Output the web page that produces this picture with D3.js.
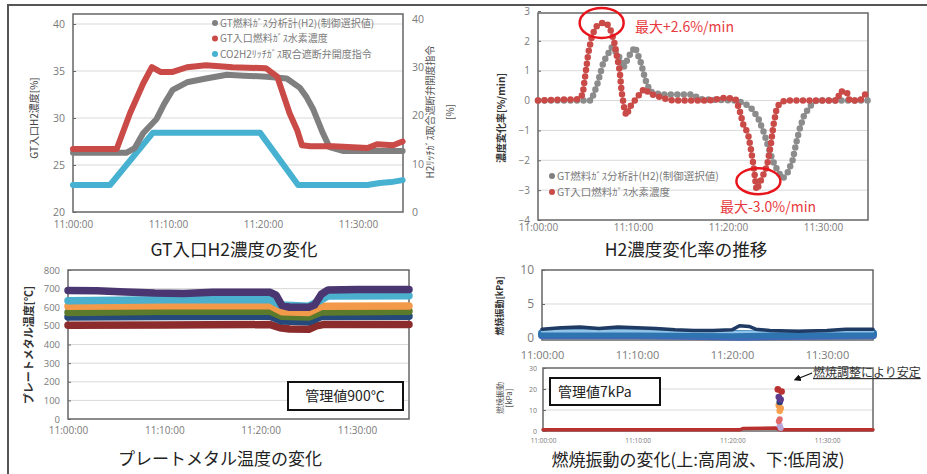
<!DOCTYPE html>
<html>
<head>
<meta charset="utf-8">
<script src="https://cdn.jsdelivr.net/npm/d3@7"></script>
<style>
  body { margin: 0; background: #fff; }
  text { font-family: 'Noto Sans CJK JP', 'Noto Sans', sans-serif; }
</style>
</head>
<body>
<script>
// ---- data (minutes after 11:00, value) ----
// GT入口H2濃度の変化
const gtAnalyzer = [[0,26.3],[5.6,26.3],[6.5,26.8],[7.4,28.4],[8.8,29.9],[9.6,31.5],[10.5,33.0],[12,33.8],[14,34.2],[16.2,34.6],[18,34.5],[20.4,34.4],[22.5,34.2],[23.9,33.2],[24.6,32.2],[25.3,30.9],[26.3,28.4],[27,26.9],[28.4,26.5],[31,26.5],[34.7,26.5]];
const gtInlet = [[0,26.7],[4.6,26.7],[6,30.5],[7.4,33.7],[8.3,35.4],[9.2,34.9],[10.5,34.9],[12,35.4],[14,35.6],[16.8,35.4],[20.3,35.3],[21.5,34.4],[22.1,32.6],[22.8,30.5],[23.6,28.7],[24.1,27.1],[25,27.0],[27.4,27.0],[31,26.8],[32,27.2],[33.7,27.1],[34.7,27.5]];
const valveCmd = [[0,5.6],[3.9,5.6],[8.4,16.4],[19.7,16.4],[23.7,5.6],[31,5.6],[32.3,6.0],[33.5,6.2],[34.7,6.6]];
const legend1 = ["GT燃料ｶﾞｽ分析計(H2)(制御選択値)", "GT入口燃料ｶﾞｽ水素濃度", "CO2H2ﾘｯﾁｶﾞｽ取合遮断弁開度指令"];

// H2濃度変化率の推移
const rateAnalyzer = [[0,0],[5.6,0],[6.2,0.5],[6.9,1.3],[7.8,1.8],[8.5,1.5],[9,1.1],[9.6,1.5],[10.2,1.8],[10.8,1.3],[11.3,0.7],[11.8,0.3],[13,0.2],[16.3,0.2],[17,0.05],[20.9,0],[21.8,-0.1],[22.6,-0.3],[23.2,-0.6],[23.7,-1.0],[24.2,-1.5],[24.7,-2.0],[25.3,-2.4],[25.8,-2.6],[26.3,-2.4],[26.8,-2.0],[27.2,-1.4],[27.5,-1.0],[28,-0.5],[28.6,-0.2],[29.3,0],[34.7,0]];
const rateInlet = [[0,0],[4.3,0.05],[4.7,0.2],[5,0.9],[5.3,1.6],[5.7,2.2],[6.2,2.5],[6.7,2.6],[7.2,2.6],[7.6,2.4],[8,2.0],[8.3,1.5],[8.6,1.0],[8.8,0.3],[9.1,-0.3],[9.3,-0.5],[9.7,-0.2],[10.3,0.05],[10.8,0.25],[11.2,0.4],[11.7,0.25],[12.5,0.15],[13.5,0.05],[14.2,0],[18,0],[19.8,0.1],[20.8,0.05],[21.2,-0.3],[21.6,-0.8],[22.1,-1.1],[22.4,-1.6],[22.7,-2.2],[23,-3.0],[23.3,-2.8],[23.7,-2.5],[24.1,-2.2],[24.5,-1.5],[24.8,-0.8],[25.1,-0.3],[25.4,-0.1],[26,0],[31.5,0],[31.8,0.3],[32.5,0.3],[32.8,0],[33.9,0],[34.3,0.15],[34.7,0.3]];
const legend2 = ["GT燃料ｶﾞｽ分析計(H2)(制御選択値)", "GT入口燃料ｶﾞｽ水素濃度"];
const peakNotes = ["最大+2.6%/min", "最大-3.0%/min"];

// プレートメタル温度の変化
const plateViolet = [[0,690],[3,688],[6,682],[9,676],[12,674],[15,680],[21,680],[21.6,665],[22.2,610],[23,600],[25,600],[25.6,612],[26.3,670],[27,693],[30,695],[35.4,695]];
const plateCyan = [[0,635],[10,640],[21,640],[22,612],[25,606],[26.3,640],[27,660],[35.4,662]];
const plateOrange = [[0,605],[10,608],[21,608],[22.2,576],[25,572],[26.3,605],[35.4,607]];
const plateGreen = [[0,572],[10,578],[21,578],[22.2,552],[25,548],[26.3,575],[35.4,578]];
const plateBlue = [[0,548],[10,550],[21,552],[22.2,526],[25,522],[26.3,550],[35.4,552]];
const plateRed = [[0,503],[10,505],[21,507],[22,490],[23,483],[25,482],[25.8,500],[26.5,507],[35.4,508]];

// 燃焼振動 (高周波)
const hfNavy = [[0,1.3],[2,1.5],[4,1.6],[6,1.4],[8,1.6],[10,1.5],[12,1.4],[14,1.2],[16,1.1],[18,1.1],[20,1.2],[20.8,1.8],[21.8,1.7],[22.5,1.3],[24,1.1],[27,1.0],[30,1.1],[32,1.3],[34.85,1.3]];
const hfLight = [[0,1.0],[10,1.0],[20,0.9],[25,1.0],[34.85,1.0]];
const hfBlue = [[0,0.7],[10,0.7],[20,0.6],[25,0.6],[34.85,0.7]];
const hfSteel = [[0,0.4],[10,0.4],[17,0.3],[21,0.2],[25,0.3],[34.85,0.4]];

// 燃焼振動 (低周波)
const lfRed = [[0,0.6],[20.8,0.6],[21.1,1.2],[24.6,1.4],[25,0.6],[34.85,0.6]];
const lfSpikeRed = [[24.8,19.8],[25.2,18.8]];
const lfSpikePurple = [[24.9,16.2],[25.1,15]];
const lfSpikeNavy = [[25.0,13.8]];
const lfSpikeOrange = [[24.9,12.2],[25.1,10.8],[25.0,9.6]];
const lfSpikePink = [[25.0,5.6],[24.9,4.6]];
const lfSpikeLav = [[25.0,2.6],[25.1,1.4]];

const timeTicks = [0, 10, 20, 30];

// ---- helpers ----
const t0 = new Date(2021, 0, 1, 11, 0, 0);
const at = m => new Date(+t0 + m * 60000);
const fmt = d3.timeFormat("%H:%M:%S");

const svg = d3.select("body").append("svg")
  .attr("width", 927).attr("height", 474);

svg.append("rect").attr("width", 927).attr("height", 474).style("fill", "#fff");

// outer frame (top + left)
svg.append("path")
  .attr("d", "M8,474 L8,5 L927,5")
  .style("fill", "none").style("stroke", "#555").style("stroke-width", 2);

function addPanel(o) {
  var x = d3.scaleTime().domain([at(0), at(o.tMax)]).range([o.left, o.right]);
  var y = d3.scaleLinear().domain(o.yDomain).range([o.bottom, o.yTop]);
  var g = svg.append("g");

  g.selectAll("line.grid")
    .data(o.grid)
    .enter()
    .append("line")
    .attr("x1", o.left).attr("x2", o.right)
    .attr("y1", d => y(d)).attr("y2", d => y(d))
    .style("stroke", "#d9d9d9").style("stroke-width", 1);

  g.append("rect")
    .attr("x", o.left).attr("y", o.boxTop)
    .attr("width", o.right - o.left).attr("height", o.boxBottom - o.boxTop)
    .style("fill", "none").style("stroke", "#666").style("stroke-width", 1.5);

  var ya = g.append("g")
    .attr("transform", `translate(${o.left},0)`)
    .call(d3.axisLeft(y).tickValues(o.yTicks).tickFormat(d3.format("d"))
      .tickSize(-3).tickPadding(o.yPad || 8));
  ya.select(".domain").remove();
  ya.selectAll("line").style("stroke", "#666");
  ya.selectAll("text").style("font-size", o.yFont + "px").style("fill", "#7a7a7a")
    .style("font-family", "'Open Sans', sans-serif");

  var xa = g.append("g")
    .attr("transform", `translate(0,${o.xLabelY})`)
    .call(d3.axisBottom(x).tickValues(timeTicks.map(at)).tickFormat(fmt).tickSize(0).tickPadding(0));
  xa.select(".domain").remove();
  xa.selectAll("text").style("font-size", o.xFont + "px").style("fill", "#7a7a7a")
    .style("font-family", "'Open Sans', sans-serif");

  return { x: x, y: y, g: g };
}

function drawLine(p, data, color, width, yScale) {
  var ys = yScale || p.y;
  var line = d3.line().x(d => p.x(at(d[0]))).y(d => ys(d[1]));
  return p.g.append("path")
    .datum(data)
    .attr("d", line)
    .style("fill", "none")
    .style("stroke", color)
    .style("stroke-width", width)
    .style("stroke-linejoin", "round")
    .style("stroke-linecap", "round");
}

function drawDots(p, data, color, r) {
  p.g.selectAll(null)
    .data(data)
    .enter()
    .append("circle")
    .attr("cx", d => p.x(at(d[0])))
    .attr("cy", d => p.y(d[1]))
    .attr("r", r)
    .style("fill", color);
}

function vTitle(cx, cy, lines, size, color, weight, gap) {
  var t = svg.append("text")
    .attr("transform", `translate(${cx},${cy}) rotate(-90)`)
    .attr("text-anchor", "middle")
    .style("font-size", size + "px")
    .style("fill", color)
    .style("font-weight", weight || "normal");
  lines.forEach((s, i) => {
    t.append("tspan").attr("x", 0).attr("dy", i == 0 ? 0 : (gap || size * 1.15)).text(s);
  });
}

function title(cx, cy, s, size) {
  svg.append("text")
    .attr("x", cx).attr("y", cy)
    .attr("text-anchor", "middle")
    .style("font-size", size + "px")
    .style("fill", "#222")
    .text(s);
}

/* PANEL 1 : GT入口H2濃度 */
var p1 = addPanel({
  left: 73, right: 403, tMax: 34.74, yDomain: [20, 40], bottom: 212, yTop: 24,
  boxTop: 14, boxBottom: 212, grid: [25, 30, 35, 40], yTicks: [20, 25, 30, 35, 40],
  xLabelY: 221, yFont: 10.5, xFont: 10
});
var yR = d3.scaleLinear().domain([0, 40]).range([212, 19]);
var yRa = p1.g.append("g").attr("transform", "translate(403,0)")
  .call(d3.axisRight(yR).tickValues([0, 10, 20, 30, 40]).tickSize(0).tickPadding(9));
yRa.select(".domain").remove();
yRa.selectAll("text").style("font-size", "10.5px").style("fill", "#7a7a7a")
  .style("font-family", "'Open Sans', sans-serif");

drawLine(p1, valveCmd, "#46b1d0", 6, yR);
drawLine(p1, gtAnalyzer, "#7f7f7f", 6);
drawLine(p1, gtInlet, "#c94a47", 6);

var lg1 = p1.g.selectAll("g.leg").data(legend1).enter().append("g")
  .attr("transform", (d, i) => `translate(215,${23 + i * 15.5})`);
lg1.append("circle").attr("r", 3)
  .style("fill", (d, i) => ["#7f7f7f", "#c94a47", "#46b1d0"][i]);
lg1.append("text").attr("x", 5).attr("dy", "0.35em")
  .style("font-size", "10px").style("fill", "#7a7a7a").text(d => d);

vTitle(38, 118, ["GT入口H2濃度[%]"], 10, "#444");
vTitle(434, 112, ["H2ﾘｯﾁｶﾞｽ取合遮断弁開度指令", "[%]"], 10, "#555", "normal", 20);
title(234, 256, "GT入口H2濃度の変化", 17.5);

/* PANEL 2 : H2濃度変化率 */
var p2 = addPanel({
  left: 538, right: 868, tMax: 34.74, yDomain: [-4, 3], bottom: 220, yTop: 11,
  boxTop: 13, boxBottom: 220, grid: [-3, -2, -1, 0, 1, 2], yTicks: [-4, -3, -2, -1, 0, 1, 2, 3],
  xLabelY: 224, yFont: 10, xFont: 10
});
drawLine(p2, rateAnalyzer, "#8c8c8c", 6.5).style("stroke-dasharray", "0 6.5");
drawLine(p2, rateInlet, "#c94a47", 6.5).style("stroke-dasharray", "0 6.5");

var lg2 = p2.g.selectAll("g.leg").data(legend2).enter().append("g")
  .attr("transform", (d, i) => `translate(552,${176 + i * 16})`);
lg2.append("circle").attr("r", 3)
  .style("fill", (d, i) => ["#7f7f7f", "#c94a47"][i]);
lg2.append("text").attr("x", 5).attr("dy", "0.35em")
  .style("font-size", "10.5px").style("fill", "#7a7a7a").text(d => d);

// peak marks
var peaks = [[6.7, 2.6, 22, 15], [23.2, -2.7, 22, 13]];
p2.g.selectAll("ellipse").data(peaks).enter().append("ellipse")
  .attr("cx", d => p2.x(at(d[0]))).attr("cy", d => p2.y(d[1]))
  .attr("rx", d => d[2]).attr("ry", d => d[3])
  .style("fill", "none").style("stroke", "#e8161c").style("stroke-width", 2.5);
svg.append("text").attr("x", 635).attr("y", 32).style("font-size", "14px")
  .style("fill", "#e83a3e").text(peakNotes[0]);
svg.append("text").attr("x", 720).attr("y", 212).style("font-size", "14px")
  .style("fill", "#e83a3e").text(peakNotes[1]);

vTitle(505, 118, ["濃度変化率[%/min]"], 10, "#333", "bold");
title(686, 256, "H2濃度変化率の推移", 17.5);

/* PANEL 3 : プレートメタル温度 */
var p3 = addPanel({
  left: 68, right: 409, tMax: 35.4, yDomain: [0, 800], bottom: 419, yTop: 270,
  boxTop: 270, boxBottom: 419, grid: [100, 200, 300, 400, 500, 600, 700], yTicks: d3.range(0, 801, 100),
  xLabelY: 427, yFont: 9.5, xFont: 10
});
drawLine(p3, plateRed, "#8b2b2b", 7.5);
drawLine(p3, plateBlue, "#24497a", 7.5);
drawLine(p3, plateGreen, "#5c7a2c", 7.5);
drawLine(p3, plateOrange, "#f39a4a", 7.5);
drawLine(p3, plateCyan, "#4bb0cd", 7.5);
drawLine(p3, plateViolet, "#4a3670", 7.5);

p3.g.append("rect").attr("x", 288).attr("y", 382).attr("width", 115).attr("height", 28)
  .style("fill", "#fff").style("stroke", "#111").style("stroke-width", 2);
p3.g.append("text").attr("x", 345).attr("y", 401).attr("text-anchor", "middle")
  .style("font-size", "14px").style("fill", "#222").text("管理値900℃");

vTitle(33, 345, ["プレートメタル温度[℃]"], 11, "#333", "bold");
title(220, 465, "プレートメタル温度の変化", 17);

/* PANEL 4 : 燃焼振動 高周波 */
var p4 = addPanel({
  left: 542, right: 873, tMax: 34.85, yDomain: [0, 10], bottom: 338, yTop: 270,
  boxTop: 270, boxBottom: 340, grid: [5], yTicks: [0, 5, 10],
  xLabelY: 351, yFont: 12, xFont: 11
});
drawLine(p4, hfSteel, "#3d6bb8", 8);
drawLine(p4, hfBlue, "#2e74b0", 8);
drawLine(p4, hfLight, "#8fc3e8", 2.5);
drawLine(p4, hfNavy, "#1f3a63", 3.5);
vTitle(503, 306, ["燃焼振動[kPa]"], 9, "#333", "bold");

/* PANEL 5 : 燃焼振動 低周波 */
var p5 = addPanel({
  left: 543, right: 873, tMax: 34.85, yDomain: [0, 30], bottom: 431, yTop: 368,
  boxTop: 368, boxBottom: 431, grid: [10, 20], yTicks: [0, 10, 20, 30],
  xLabelY: 438, yFont: 7, xFont: 6.5, yPad: 6
});
drawLine(p5, lfRed, "#b8312f", 3.5);
drawDots(p5, lfSpikeLav, "#b9a6d8", 3);
drawDots(p5, lfSpikePink, "#e26a6a", 3);
drawDots(p5, lfSpikeOrange, "#f6a04d", 3.3);
drawDots(p5, lfSpikeNavy, "#2b3f7a", 3.3);
drawDots(p5, lfSpikePurple, "#5c3a8c", 3.3);
drawDots(p5, lfSpikeRed, "#b8312f", 3.3);

p5.g.append("rect").attr("x", 550).attr("y", 378).attr("width", 110).attr("height", 27)
  .style("fill", "#fff").style("stroke", "#111").style("stroke-width", 2);
p5.g.append("text").attr("x", 558).attr("y", 397)
  .style("font-size", "14px").style("fill", "#222").text("管理値7kPa");

svg.append("defs").append("marker")
  .attr("id", "arr").attr("viewBox", "0 0 10 10").attr("refX", 5).attr("refY", 5)
  .attr("markerWidth", 6).attr("markerHeight", 6).attr("orient", "auto-start-reverse")
  .append("path").attr("d", "M0,0 L10,5 L0,10 z").style("fill", "#111");
svg.append("line").attr("x1", 812).attr("y1", 373).attr("x2", 797).attr("y2", 379)
  .style("stroke", "#111").style("stroke-width", 1.2).attr("marker-end", "url(#arr)");
svg.append("text").attr("x", 813).attr("y", 377).style("font-size", "12px")
  .style("fill", "#333").style("text-decoration", "underline").text("燃焼調整により安定");

vTitle(503, 398, ["燃焼振動", "[kPa]"], 8, "#555");
title(698, 466, "燃焼振動の変化(上:高周波、下:低周波)", 17);
</script>
</body>
</html>
